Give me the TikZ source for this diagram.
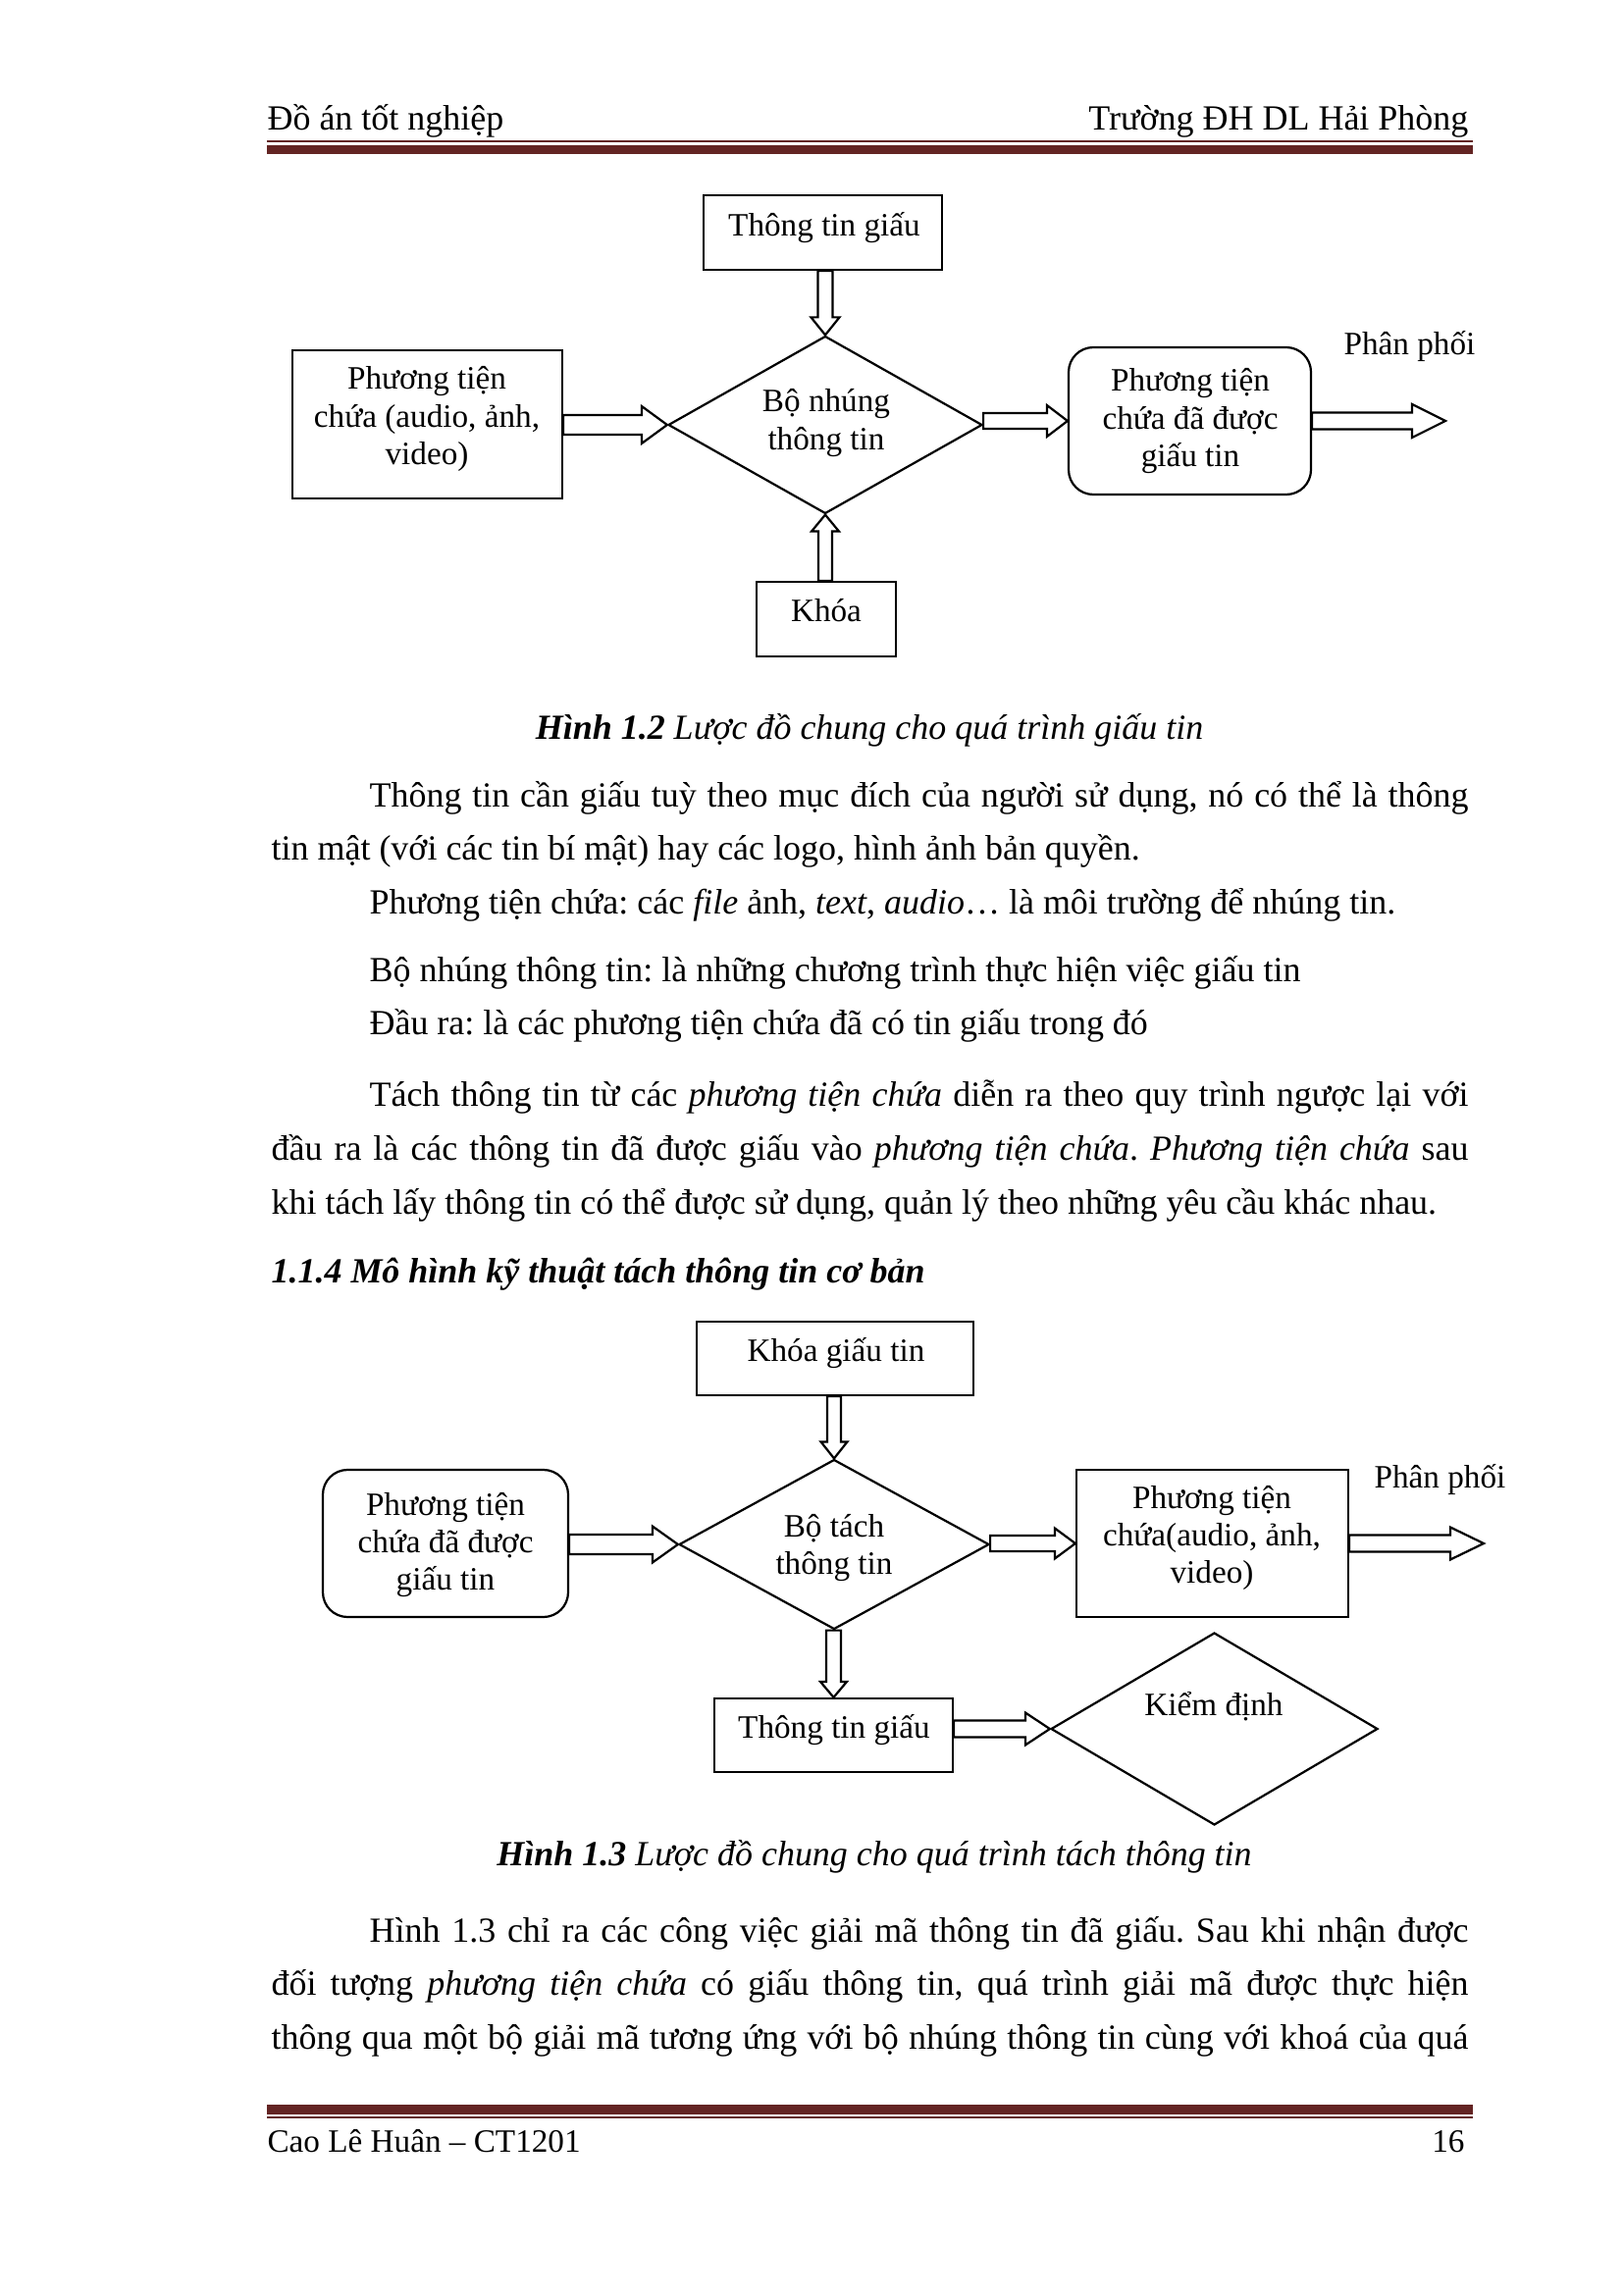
\documentclass[tikz,border=0pt]{standalone}
\usepackage{fontspec}
\setmainfont{Liberation Serif}
\usetikzlibrary{shapes.geometric,calc}
\definecolor{rulecol}{RGB}{99,36,35}
\frenchspacing
\newlength\pxl \setlength\pxl{0.127mm}
\newcommand\jl[2]{\hbox to #1\pxl{#2}}
\newcommand\lns[1]{\begin{tabular}[t]{@{}c@{}}#1\end{tabular}}
\newcommand\bodyf{\fontsize{13pt}{15pt}\selectfont}
\newcommand\diaf{\fontsize{12pt}{13.9pt}\selectfont}
% horizontal block arrow pointing right: start, tip, shaft half, head half, head length (px)
\newcommand\harr[5]{%
  \draw[blk] let \p1=(#1),\p2=(#2) in
   (\x1,{\y2+#3*\pxl}) -- ({\x2-#5*\pxl},{\y2+#3*\pxl}) -- ({\x2-#5*\pxl},{\y2+#4*\pxl})
   -- (\p2) -- ({\x2-#5*\pxl},{\y2-#4*\pxl}) -- ({\x2-#5*\pxl},{\y2-#3*\pxl}) -- (\x1,{\y2-#3*\pxl}) -- cycle;}
% vertical block arrow: start, tip, shaft half, head half, head length, dir (1 down, -1 up)
\newcommand\varr[6]{%
  \draw[blk] let \p1=(#1),\p2=(#2) in
   ({\x2-#3*\pxl},\y1) -- ({\x2-#3*\pxl},{\y2+#6*#5*\pxl}) -- ({\x2-#4*\pxl},{\y2+#6*#5*\pxl})
   -- (\p2) -- ({\x2+#4*\pxl},{\y2+#6*#5*\pxl}) -- ({\x2+#3*\pxl},{\y2+#6*#5*\pxl}) -- ({\x2+#3*\pxl},\y1) -- cycle;}
\tikzset{
  blk/.style={draw, line width=0.8pt, line join=miter},
  boxn/.style={draw, line width=0.8pt, inner sep=0pt, rectangle},
  rboxn/.style={boxn, rounded corners=3.2mm},
  dia/.style={draw, line width=0.8pt, inner sep=0pt, diamond},
  lab/.style={inner sep=0pt, anchor=base, font=\diaf},
  txt/.style={inner sep=0pt, anchor=base west, font=\bodyf},
  rule/.style={fill=rulecol, draw=none}
}
\begin{document}
\begin{tikzpicture}[x=0.127mm, y=-0.127mm]
\useasboundingbox (0,0) rectangle (1654,2339);
\fill[white] (0,0) rectangle (1654,2339);

% header
\node[txt] (h1) at (272,133) {Đồ án tốt nghiệp};
\node[txt, anchor=base east] (h2) at (1497,133) {Trường ĐH DL Hải Phòng};
\fill[rule] (272,143.5) rectangle (1501,145.5);
\fill[rule] (272,148.5) rectangle (1501,156.7);

% ---------- Diagram 1 ----------
\node[boxn, minimum width=243*\pxl, minimum height=76*\pxl] (tt1) at (838.5,237) {};
\node[lab] (tt1l) at (840,241) {Thông tin giấu};
\node[dia, minimum width=320*\pxl, minimum height=181*\pxl, aspect=1.768] (d1) at (841,433) {};
\node[lab] (d1l) at (842,420) {\lns{Bộ nhúng\\thông tin}};
\node[boxn, minimum width=275*\pxl, minimum height=151*\pxl] (lb1) at (435.5,432.5) {};
\node[lab] (lb1l) at (435,397) {\lns{Phương tiện\\chứa (audio, ảnh,\\video)}};
\node[rboxn, minimum width=247*\pxl, minimum height=150*\pxl] (rb1) at (1212.5,429) {};
\node[lab] (rb1l) at (1213,399) {\lns{Phương tiện\\chứa đã được\\giấu tin}};
\node[boxn, minimum width=142*\pxl, minimum height=76*\pxl] (kh1) at (842,631) {};
\node[lab] (kh1l) at (842,634) {Khóa};
\node[lab, anchor=base west] (pp1) at (1369,362) {Phân phối};
\coordinate (out1) at (1473,429);

\harr{lb1.east}{d1.west}{10}{19}{26}
\harr{d1.east}{rb1.west}{8}{16}{21}
\harr{rb1.east}{out1}{8.5}{17}{34}
\varr{tt1.south}{d1.north}{7.5}{14.5}{18}{1}
\varr{kh1.north}{d1.south}{7}{14}{17}{-1}

% caption 1
\node[txt, anchor=base] (cap1) at (886,753) {\textbf{\textit{Hình 1.2}} \textit{Lược đồ chung cho quá trình giấu tin}};

% body text
\node[txt] (p1) at (376,822) {\jl{1120}{Thông tin cần giấu tuỳ theo mục đích của người sử dụng, nó có thể là thông}};
\node[txt] (p2) at (276,876) {tin mật (với các tin bí mật) hay các logo, hình ảnh bản quyền.};
\node[txt] (p3) at (376,931) {Phương tiện chứa: các \textit{file} ảnh, \textit{text}, \textit{audio}… là môi trường để nhúng tin.};
\node[txt] (p4) at (376,1000) {Bộ nhúng thông tin: là những chương trình thực hiện việc giấu tin};
\node[txt] (p5) at (376,1054) {Đầu ra: là các phương tiện chứa đã có tin giấu trong đó};
\node[txt] (p6) at (376,1127) {\jl{1120}{Tách thông tin từ các \textit{phương tiện chứa} diễn ra theo quy trình ngược lại với}};
\node[txt] (p7) at (276,1182) {\jl{1220}{đầu ra là các thông tin đã được giấu vào \textit{phương tiện chứa}. \textit{Phương tiện chứa} sau}};
\node[txt] (p8) at (276,1237) {khi tách lấy thông tin có thể được sử dụng, quản lý theo những yêu cầu khác nhau.};
\node[txt] (hd) at (276,1307) {\textbf{\textit{1.1.4 Mô hình kỹ thuật tách thông tin cơ bản}}};

% ---------- Diagram 2 ----------
\node[boxn, minimum width=282*\pxl, minimum height=75*\pxl] (kgt) at (851,1384.5) {};
\node[lab] (kgtl) at (852,1387) {Khóa giấu tin};
\node[dia, minimum width=316*\pxl, minimum height=173*\pxl, aspect=1.827] (d2) at (850,1574) {};
\node[lab] (d2l) at (850,1566) {\lns{Bộ tách\\thông tin}};
\node[rboxn, minimum width=250*\pxl, minimum height=150*\pxl] (lb2) at (454,1573) {};
\node[lab] (lb2l) at (454,1544) {\lns{Phương tiện\\chứa đã được\\giấu tin}};
\node[boxn, minimum width=277*\pxl, minimum height=150*\pxl] (rb2) at (1235.5,1573) {};
\node[lab] (rb2l) at (1235,1537) {\lns{Phương tiện\\chứa(audio, ảnh,\\video)}};
\node[lab, anchor=base west] (pp2) at (1400,1516) {Phân phối};
\coordinate (out2) at (1512,1573);
\node[boxn, minimum width=243*\pxl, minimum height=75*\pxl] (ttg2) at (849.5,1768.5) {};
\node[lab] (ttg2l) at (850,1771) {Thông tin giấu};
\node[dia, minimum width=333*\pxl, minimum height=196*\pxl, aspect=1.699] (kd) at (1237.5,1762) {};
\node[lab] (kdl) at (1237,1748) {Kiểm định};

\harr{lb2.east}{d2.west}{10}{18.5}{26}
\harr{d2.east}{rb2.west}{8}{15.5}{21}
\harr{rb2.east}{out2}{8.5}{16.5}{34}
\varr{kgt.south}{d2.north}{7}{13.5}{17}{1}
\varr{d2.south}{ttg2.north}{7.5}{13.5}{16}{1}
\harr{ttg2.east}{kd.west}{8.5}{16.5}{25}

% caption 2
\node[txt, anchor=base] (cap2) at (891,1901) {\textbf{\textit{Hình 1.3}} \textit{Lược đồ chung cho quá trình tách thông tin}};

% final paragraph
\node[txt] (q1) at (376,1979) {\jl{1120}{Hình 1.3 chỉ ra các công việc giải mã thông tin đã giấu. Sau khi nhận được}};
\node[txt] (q2) at (276,2033) {\jl{1220}{đối tượng \textit{phương tiện chứa} có giấu thông tin, quá trình giải mã được thực hiện}};
\node[txt] (q3) at (276,2088) {\jl{1220}{thông qua một bộ giải mã tương ứng với bộ nhúng thông tin cùng với khoá của quá}};

% footer
\fill[rule] (272,2145) rectangle (1501,2155);
\fill[rule] (272,2157.3) rectangle (1501,2159.3);
\node[txt, font=\fontsize{12pt}{14pt}\selectfont] (f1) at (272,2193) {Cao Lê Huân – CT1201};
\node[txt, anchor=base east, font=\fontsize{12pt}{14pt}\selectfont] (f2) at (1493,2193) {16};
\end{tikzpicture}
\end{document}
